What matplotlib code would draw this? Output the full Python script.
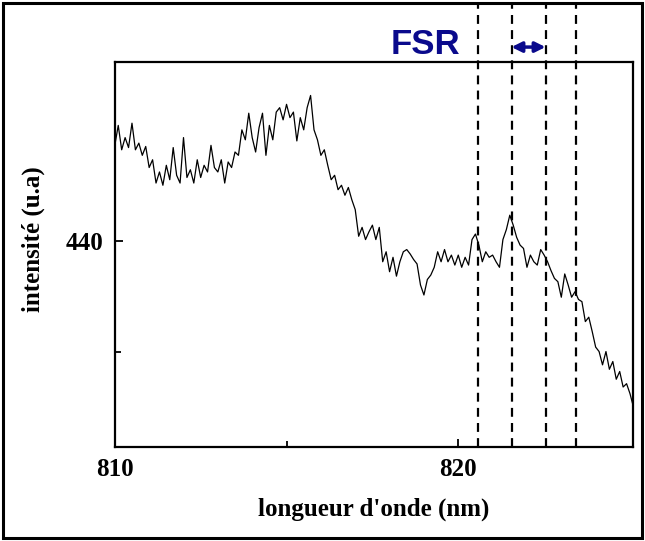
import numpy as np
import matplotlib; matplotlib.use("Agg")
import matplotlib.pyplot as plt
from matplotlib.patches import Rectangle
from matplotlib.transforms import blended_transform_factory

# spectre lu sur l'image, pas de 0.1 nm
wavelength = np.round(np.arange(810.0, 825.15, 0.1), 1)
intensity = [
    448.6, 450.4, 448.2, 449.3, 448.4, 450.6, 448.2, 448.8, 447.7, 448.5,
    446.6, 447.3, 445.2, 446.2, 445.0, 446.8, 445.5, 448.4, 445.9, 445.2,
    449.3, 445.7, 446.4, 445.2, 447.3, 445.7, 446.8, 446.2, 448.6, 446.6,
    446.2, 447.3, 445.2, 447.1, 446.6, 448.0, 447.7, 450.0, 449.1, 451.5,
    449.3, 448.0, 450.2, 451.5, 447.7, 450.4, 449.1, 451.6, 452.0, 450.9,
    452.3, 451.1, 451.6, 449.0, 451.1, 450.0, 452.0, 453.1, 450.0, 449.1,
    447.7, 448.2, 446.8, 445.5, 445.9, 444.6, 445.0, 444.1, 444.8, 443.7,
    442.8, 440.4, 441.2, 440.1, 440.8, 441.4, 440.1, 441.2, 438.1, 439.0,
    437.2, 438.5, 436.8, 438.1, 439.0, 439.2, 438.8, 438.3, 437.9, 436.0,
    435.1, 436.5, 436.9, 437.6, 439.0, 438.1, 439.2, 438.1, 438.7, 437.8,
    438.7, 437.6, 438.5, 437.8, 440.1, 440.6, 439.6, 438.1, 439.0, 438.5,
    438.7, 438.1, 437.6, 440.1, 441.0, 442.3, 441.4, 440.3, 439.6, 439.3,
    437.6, 438.7, 438.1, 437.8, 439.2, 438.7, 438.1, 437.3, 436.6, 436.3,
    434.9, 437.0, 436.0, 434.9, 435.4, 434.7, 434.5, 432.7, 433.1, 431.8,
    430.4, 430.0, 428.8, 430.0, 428.4, 429.1, 427.5, 428.2, 426.8, 427.1,
    426.2, 425.0,
]
fsr_lines = [820.58, 821.55, 822.54, 823.44]
fsr_arrow = (821.55, 822.54)

serif = ["Liberation Serif", "DejaVu Serif"]
fig = plt.figure(figsize=(6.45, 5.41), dpi=100)
ax = fig.add_axes([0.178, 0.174, 0.803, 0.711])
ax.plot(wavelength, intensity, color="black", lw=0.9)
ax.set_xlim(810, 825.08)
ax.set_ylim(421.4, 456.1)

ax.set_xticks([810, 820])
ax.set_xticks([815], minor=True)
ax.set_yticks([440])
ax.set_yticks([430], minor=True)
ax.tick_params(which="both", direction="in", width=1.3)
ax.tick_params(which="major", length=6, pad=8)
ax.tick_params(which="minor", length=4)
for lab in ax.get_xticklabels() + ax.get_yticklabels():
    lab.set_fontfamily(serif); lab.set_fontweight("bold"); lab.set_fontsize(18)
for s in ax.spines.values():
    s.set_linewidth(1.6)
ax.set_xlabel("longueur d'onde (nm)", family=serif, weight="bold", fontsize=18, labelpad=12)
ax.set_ylabel("intensité (u.a)", family=serif, weight="bold", fontsize=18)
ax.yaxis.set_label_coords(-0.135, 0.54)

# lignes FSR qui sortent du cadre
tr = blended_transform_factory(ax.transData, ax.transAxes)
for x in fsr_lines:
    ax.plot([x, x], [0, 1.148], transform=tr, color="black", lw=1.6,
            ls=(0, (4, 2.8)), clip_on=False)
ax.annotate("", xy=(fsr_arrow[1], 0.913), xytext=(fsr_arrow[0], 0.913),
            xycoords=("data", "figure fraction"), textcoords=("data", "figure fraction"),
            arrowprops=dict(arrowstyle="<|-|>", color="#0a0a8c", lw=2.5,
                            mutation_scale=15, shrinkA=0, shrinkB=0))
fig.text(0.659, 0.917, "FSR", color="#0a0a8c", fontsize=25, weight="bold",
         family="Liberation Sans", ha="center", va="center")

fig.patches.append(Rectangle((0.004, 0.005), 0.991, 0.99, transform=fig.transFigure,
                             fill=False, edgecolor="black", lw=2.2))
fig.savefig("out.png", dpi=100)
